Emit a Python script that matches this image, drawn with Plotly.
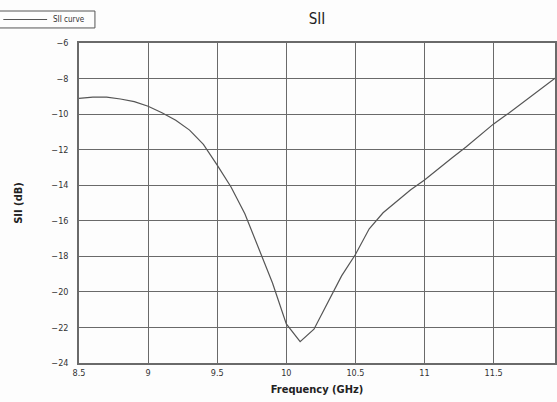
import plotly.graph_objects as go

# S11 measurement of the antenna, frequency in GHz, return loss in dB
freq_ghz = [8.5, 8.6, 8.7, 8.8, 8.9, 9.0, 9.1, 9.2, 9.3, 9.4, 9.5, 9.6, 9.7, 9.8,
            9.9, 10.0, 10.1, 10.2, 10.3, 10.4, 10.5, 10.6, 10.7, 10.8, 10.9, 11.0,
            11.1, 11.2, 11.3, 11.4, 11.5, 11.6, 11.7, 11.8, 11.9, 12.0]
s11_db = [-9.12, -9.04, -9.05, -9.15, -9.3, -9.56, -9.92, -10.35, -10.9, -11.7,
          -12.87, -14.1, -15.6, -17.6, -19.5, -21.8, -22.8, -22.1, -20.6, -19.1,
          -17.9, -16.45, -15.55, -14.9, -14.25, -13.71, -13.06, -12.45, -11.85,
          -11.2, -10.55, -10.0, -9.4, -8.8, -8.25, -7.65]

x_ticks = [8.5, 9, 9.5, 10, 10.5, 11, 11.5, 12]
x_tick_text = ["8.5", "9", "9.5", "10", "10.5", "11", "11.5", "12"]
y_ticks = [-24, -22, -20, -18, -16, -14, -12, -10, -8, -6]
series_name = "SII curve"

FONT = "Liberation Sans Narrow, DejaVu Sans Condensed, sans-serif"
GRID = "#6a6a6a"
CURVE = "#555555"

fig = go.Figure()
fig.add_trace(go.Scatter(
    x=freq_ghz, y=s11_db, mode="lines", name=series_name,
    line=dict(color=CURVE, width=1.2), showlegend=False,
))

# compact boxed legend in the top-left corner
fig.add_shape(type="rect", xref="paper", yref="paper",
              x0=-0.176, x1=0.0335, y0=1.047, y1=1.10,
              line=dict(color="#555555", width=1), fillcolor="#fdfdfd")
fig.add_shape(type="line", xref="paper", yref="paper",
              x0=-0.159, x1=-0.067, y0=1.0734, y1=1.0734,
              line=dict(color=CURVE, width=1.2))
fig.add_annotation(text=series_name, xref="paper", yref="paper",
                   x=-0.0585, y=1.0734, xanchor="left", yanchor="middle",
                   showarrow=False,
                   font=dict(family=FONT, size=8, color="#333333"))

fig.update_layout(
    width=557, height=402,
    margin=dict(l=79, r=0, t=43, b=39),
    paper_bgcolor="#fdfdfd", plot_bgcolor="#fdfdfd",
    font=dict(family=FONT, size=10, color="#222222"),
    title=dict(text="SII", x=0.5, xanchor="center", y=0.953, yanchor="middle",
               xref="paper", font=dict(family=FONT, size=15, color="#222222")),
    showlegend=False,
    xaxis=dict(
        range=[8.5, 11.944], tickmode="array", tickvals=x_ticks, ticktext=x_tick_text,
        showgrid=True, gridcolor=GRID, gridwidth=1.3,
        showline=True, linecolor=GRID, linewidth=1.5, mirror=True,
        ticks="", ticklen=0, zeroline=False,
        tickfont=dict(family=FONT, size=9, color="#333333"),
        title=dict(text="<b>Frequency (GHz)</b>", standoff=9,
                   font=dict(family=FONT, size=11, color="#222222")),
    ),
    yaxis=dict(
        range=[-24, -6], tickmode="array", tickvals=y_ticks,
        showgrid=True, gridcolor=GRID, gridwidth=1.3,
        showline=True, linecolor=GRID, linewidth=1.5, mirror=True,
        ticks="", zeroline=False, ticklabelstandoff=7,
        tickfont=dict(family=FONT, size=9, color="#333333"),
        title=dict(text="<b>SII (dB)</b>", standoff=27,
                   font=dict(family=FONT, size=11, color="#222222")),
    ),
)

fig.write_html("out.html")
